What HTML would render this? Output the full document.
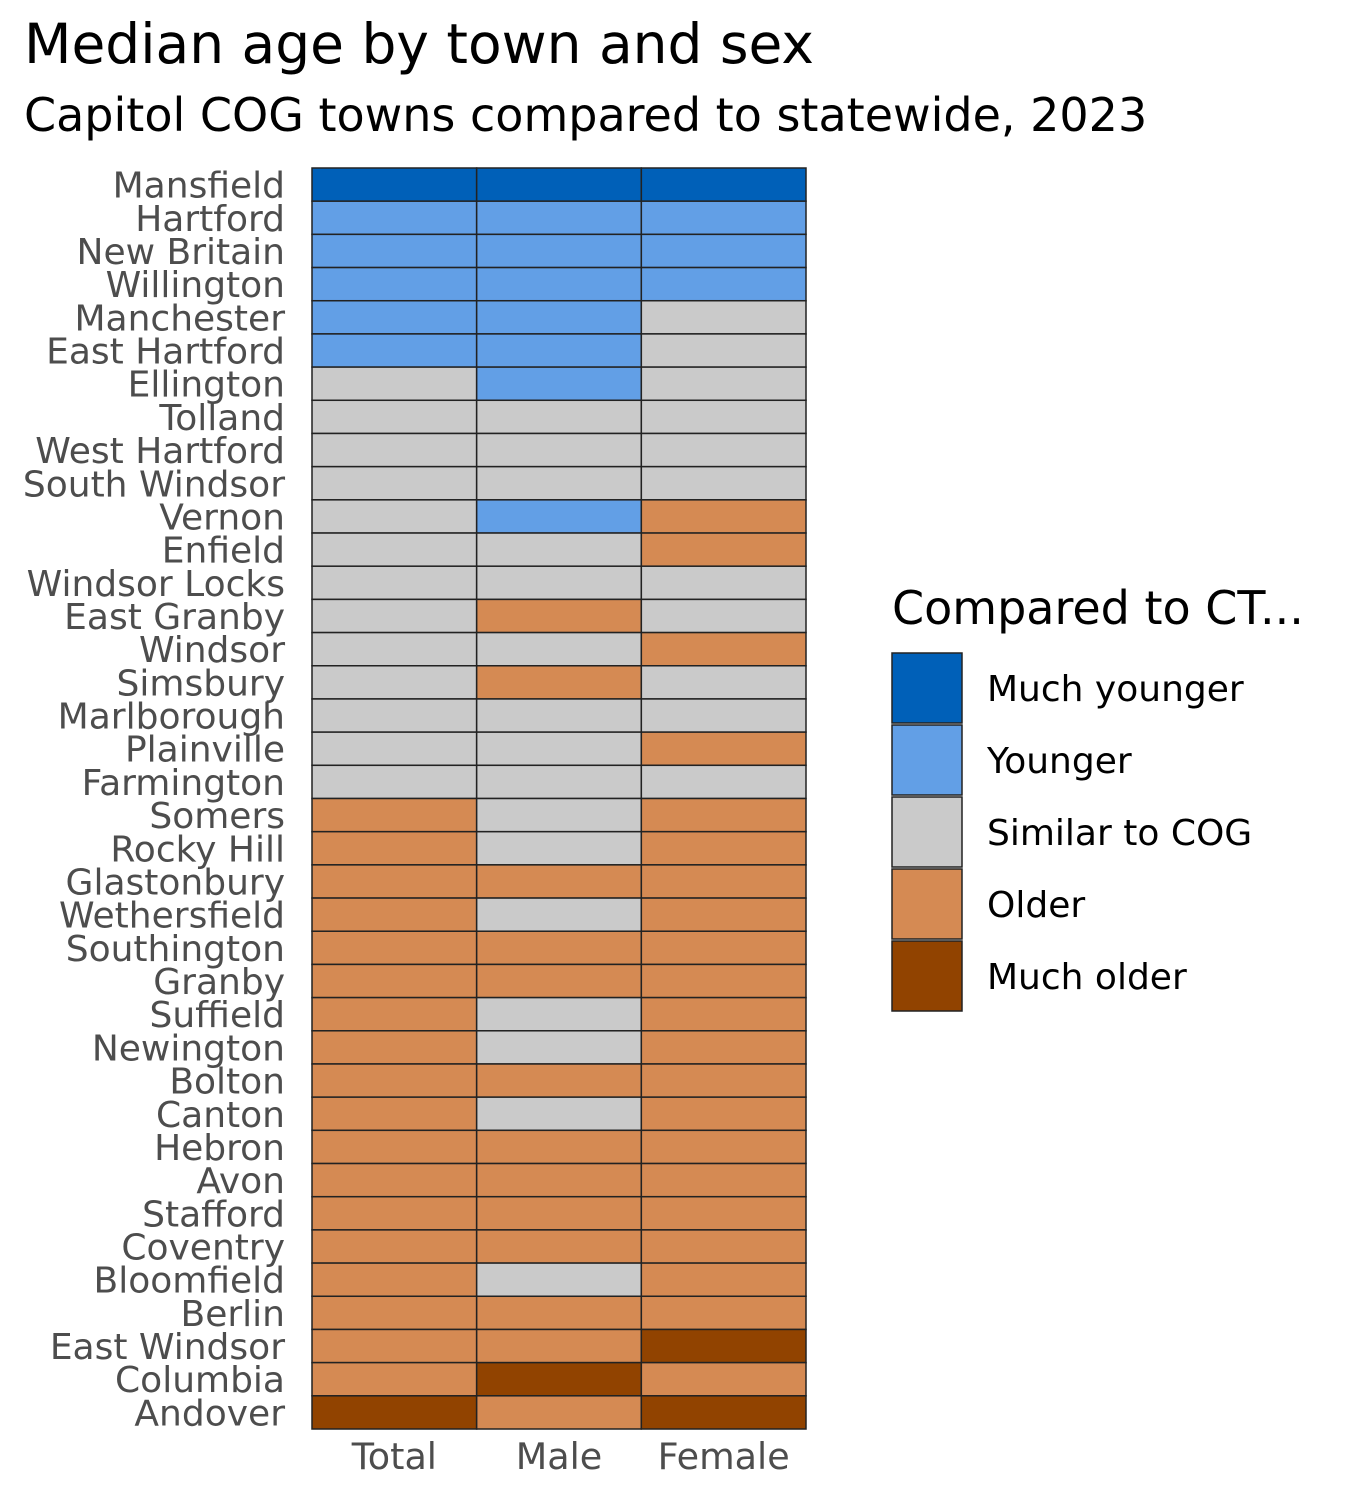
<!DOCTYPE html>
<html><head><meta charset="utf-8"><style>
body{margin:0;background:#fff;width:1350px;height:1500px;overflow:hidden}
svg{display:block;font-family:"DejaVu Sans","Liberation Sans",sans-serif}
</style></head><body>
<svg id="c" width="1350" height="1500">
<text x="24" y="63" font-size="55" fill="#000">Median age by town and sex</text>
<text x="24" y="131" font-size="46" fill="#000">Capitol COG towns compared to statewide, 2023</text>
<g id="cells"></g><g id="ylab"></g><g id="xlab"></g><g id="legend"></g>
</svg>
<script>
const towns=["Mansfield","Hartford","New Britain","Willington","Manchester","East Hartford","Ellington","Tolland","West Hartford","South Windsor","Vernon","Enfield","Windsor Locks","East Granby","Windsor","Simsbury","Marlborough","Plainville","Farmington","Somers","Rocky Hill","Glastonbury","Wethersfield","Southington","Granby","Suffield","Newington","Bolton","Canton","Hebron","Avon","Stafford","Coventry","Bloomfield","Berlin","East Windsor","Columbia","Andover"];
const groups=["Total","Male","Female"];
const totalCat=[0,1,1,1,1,1,2,2,2,2,2,2,2,2,2,2,2,2,2,3,3,3,3,3,3,3,3,3,3,3,3,3,3,3,3,3,3,4];
const maleCat=[0,1,1,1,1,1,1,2,2,2,1,2,2,3,2,3,2,2,2,2,2,3,2,3,3,2,2,3,2,3,3,3,3,2,3,3,4,3];
const femaleCat=[0,1,1,1,2,2,2,2,2,2,3,3,2,2,3,2,2,3,2,3,3,3,3,3,3,3,3,3,3,3,3,3,3,3,3,4,3,4];
const levels=["Much younger","Younger","Similar to COG","Older","Much older"];
const colors=["#0060b8","#629fe6","#cacaca","#d58a53","#914300"];
const NS="http://www.w3.org/2000/svg";
const X0=312,X1=806,Y0=168,Y1=1429;
const cw=(X1-X0)/groups.length, rh=(Y1-Y0)/towns.length;
const xs=i=>X0+i*cw, ys=i=>Y0+i*rh;
function mk(t,a,p){const e=document.createElementNS(NS,t);for(const k in a)e.setAttribute(k,a[k]);p.appendChild(e);return e;}
const cells=document.getElementById('cells'),yl=document.getElementById('ylab'),xl=document.getElementById('xlab'),lg=document.getElementById('legend');
const series=[totalCat,maleCat,femaleCat];
series.forEach((s,j)=>s.forEach((v,i)=>{
 const r=mk('rect',{x:xs(j),y:ys(i),width:cw,height:rh,fill:colors[v],stroke:"#222","stroke-width":1.5},cells);
 
 
}));
towns.forEach((t,i)=>{
 const e=mk('text',{x:285,y:ys(i)+rh/2+13,"font-size":36,fill:"#4d4d4d","text-anchor":"end"},yl);e.textContent=t;
 
 
});
groups.forEach((g,j)=>{
 const e=mk('text',{x:xs(j)+cw/2,y:1469,"font-size":36.5,fill:"#4d4d4d","text-anchor":"middle"},xl);e.textContent=g;
 
 
});
const lt=mk('text',{x:892,y:624,"font-size":46,fill:"#000"},lg);lt.textContent="Compared to CT...";


levels.forEach((l,i)=>{
 const y=653+i*72;
 const r=mk('rect',{x:892,y:y,width:70,height:70,fill:colors[i],stroke:"#222","stroke-width":1.5},lg);
 
 
 const t=mk('text',{x:987,y:y+48,"font-size":36,fill:"#000"},lg);t.textContent=l;
 
 
});
</script>
</body></html>
